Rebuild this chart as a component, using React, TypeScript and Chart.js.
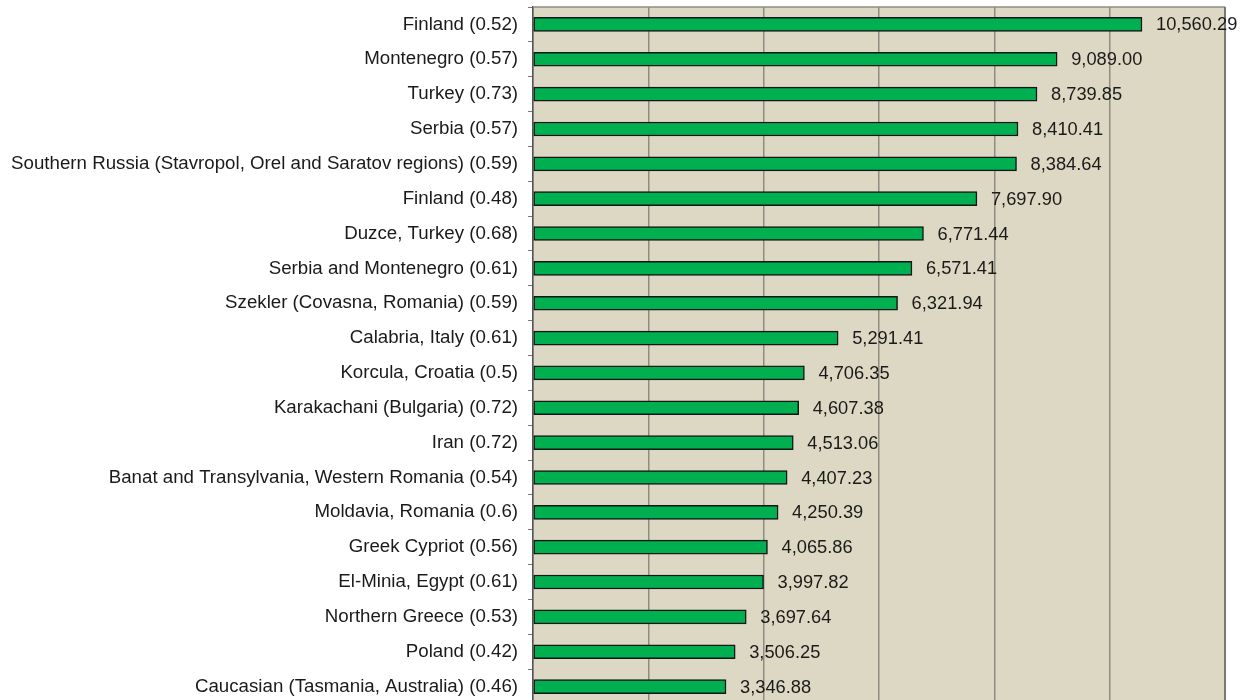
import React, { useEffect, useRef } from "react";
import { Chart, registerables } from "chart.js";

Chart.register(...registerables);

const categories: string[] = [
  "Finland (0.52)",
  "Montenegro (0.57)",
  "Turkey (0.73)",
  "Serbia (0.57)",
  "Southern Russia (Stavropol, Orel and Saratov regions) (0.59)",
  "Finland (0.48)",
  "Duzce, Turkey (0.68)",
  "Serbia and Montenegro (0.61)",
  "Szekler (Covasna, Romania) (0.59)",
  "Calabria, Italy (0.61)",
  "Korcula, Croatia (0.5)",
  "Karakachani (Bulgaria) (0.72)",
  "Iran (0.72)",
  "Banat and Transylvania, Western Romania (0.54)",
  "Moldavia, Romania (0.6)",
  "Greek Cypriot (0.56)",
  "El-Minia, Egypt (0.61)",
  "Northern Greece (0.53)",
  "Poland (0.42)",
  "Caucasian (Tasmania, Australia) (0.46)",
];

const values: number[] = [
  10560.29, 9089.0, 8739.85, 8410.41, 8384.64, 7697.9, 6771.44, 6571.41,
  6321.94, 5291.41, 4706.35, 4607.38, 4513.06, 4407.23, 4250.39, 4065.86,
  3997.82, 3697.64, 3506.25, 3346.88,
];

const xMin = 0;
const xMax = 12000;
const xStep = 2000;

const FONT = "'Liberation Sans', Arial, sans-serif";
const LABEL_SIZE = 18.7;
const VALUE_SIZE = 18.3;

const fmt = (v: number) =>
  v.toLocaleString("en-US", { minimumFractionDigits: 2, maximumFractionDigits: 2 });

export default function App() {
  const ref = useRef<HTMLCanvasElement | null>(null);

  useEffect(() => {
    if (!ref.current) return;
    const bgPlugin = {
      id: "plotBg",
      beforeDraw(chart: any) {
        const { ctx, chartArea } = chart;
        ctx.save();
        ctx.fillStyle = "#DDD8C3";
        ctx.fillRect(chartArea.left, chartArea.top, chartArea.right - chartArea.left, chartArea.bottom - chartArea.top);
        ctx.restore();
      },
      afterDraw(chart: any) {
        const { ctx, chartArea } = chart;
        ctx.save();
        ctx.strokeStyle = "#8F8C82";
        ctx.lineWidth = 1.5;
        ctx.beginPath();
        ctx.moveTo(chartArea.left, chartArea.top);
        ctx.lineTo(chartArea.right, chartArea.top);
        ctx.stroke();
        ctx.strokeStyle = "#7A7870";
        ctx.lineWidth = 2;
        ctx.beginPath();
        ctx.moveTo(chartArea.right, chartArea.top);
        ctx.lineTo(chartArea.right, chartArea.bottom);
        ctx.stroke();
        // value labels (not clipped to the plot area)
        const meta = chart.getDatasetMeta(0);
        ctx.font = `${VALUE_SIZE}px ${FONT}`;
        ctx.fillStyle = "#1a1a1a";
        ctx.textAlign = "left";
        ctx.textBaseline = "middle";
        meta.data.forEach((bar: any, i: number) => {
          ctx.fillText(fmt(values[i]), bar.x + 14, bar.y + 1);
        });
        ctx.restore();
      },
    };
    const chart = new Chart(ref.current, {
      type: "bar",
      data: {
        labels: categories,
        datasets: [
          {
            data: values,
            backgroundColor: "#00AF50",
            borderColor: "#151515",
            borderWidth: 1.5,
            borderSkipped: false,
            barThickness: 14,
          },
        ],
      },
      options: {
        indexAxis: "y",
        animation: false,
        responsive: false,
        maintainAspectRatio: false,
        layout: { padding: { top: 7, right: 21, bottom: 8, left: 0 } },
        plugins: {
          legend: { display: false },
          tooltip: { enabled: false },
        },
        scales: {
          x: {
            min: xMin,
            max: xMax,
            ticks: { stepSize: xStep, display: false },
            grid: {
              color: "#8F8C82",
              lineWidth: 1.5,
              drawTicks: false,
            },
            border: { display: false },
          },
          y: {
            ticks: {
              color: "#1a1a1a",
              font: { family: FONT, size: LABEL_SIZE },
              padding: 10,
              autoSkip: false,
            },
            grid: {
              drawOnChartArea: false,
              drawTicks: true,
              tickLength: 5,
              color: "#777",
              offset: true,
            },
            border: { display: true, color: "#555", width: 1.5 },
            afterFit(scale: any) {
              scale.width = 533;
              scale.paddingTop = 0;
              scale.paddingBottom = 0;
            },
          },
        },
      },
      plugins: [bgPlugin],
    });
    return () => chart.destroy();
  }, []);

  return (
    <div
      style={{
        position: "fixed",
        top: 0,
        left: 0,
        width: 1246,
        height: 700,
        overflow: "hidden",
        background: "#fff",
      }}
    >
      <canvas ref={ref} width={1246} height={712} style={{ display: "block" }} />
    </div>
  );
}
